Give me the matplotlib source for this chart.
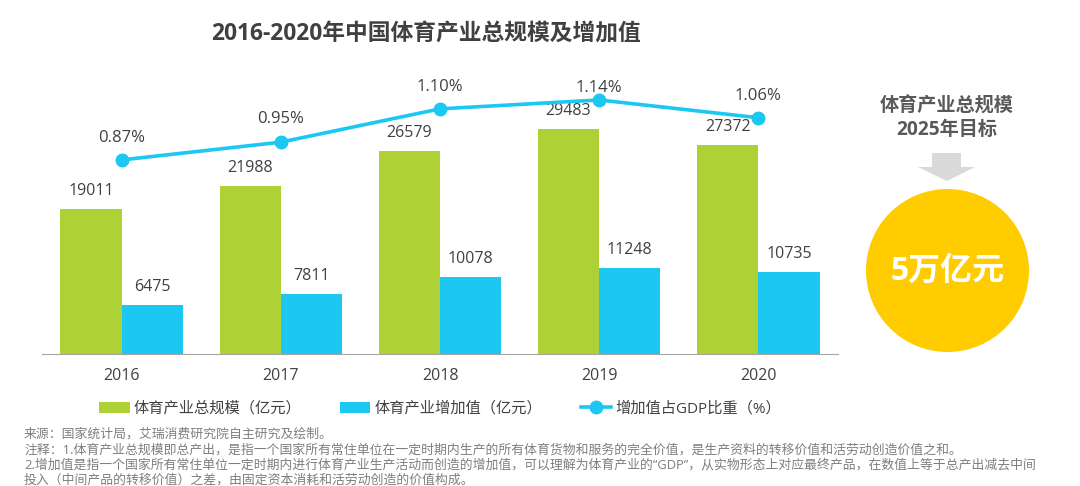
import matplotlib
matplotlib.use('Agg')
import matplotlib.pyplot as plt
from matplotlib.patches import Ellipse, Polygon, Rectangle

plt.rcParams['font.family'] = ['Open Sans', 'Noto Sans CJK SC', 'DejaVu Sans']

years = ['2016', '2017', '2018', '2019', '2020']
total = [19011, 21988, 26579, 29483, 27372]
added = [6475, 7811, 10078, 11248, 10735]
share = [0.87, 0.95, 1.10, 1.14, 1.06]
share_labels = ['0.87%', '0.95%', '1.10%', '1.14%', '1.06%']

title = '2016-2020年中国体育产业总规模及增加值'
legend_labels = ['体育产业总规模\uff08亿元\uff09', '体育产业增加值\uff08亿元\uff09', '增加值占GDP比重\uff08%\uff09']
notes = [
    '来源\uff1a国家统计局\uff0c艾瑞消费研究院自主研究及绘制。',
    '注释\uff1a1.体育产业总规模即总产出\uff0c是指一个国家所有常住单位在一定时期内生产的所有体育货物和服务的完全价值\uff0c是生产资料的转移价值和活劳动创造价值之和。',
    '2.增加值是指一个国家所有常住单位一定时期内进行体育产业生产活动而创造的增加值\uff0c可以理解为体育产业的“GDP”\uff0c从实物形态上对应最终产品\uff0c在数值上等于总产出减去中间',
    '投入\uff08中间产品的转移价值\uff09之差\uff0c由固定资本消耗和活劳动创造的价值构成。',
]

GREEN = '#AED136'
BLUE = '#1CC7F2'
TEXT = '#404040'

fig = plt.figure(figsize=(10.8, 4.86), dpi=100)

# bar area, pixel box x 42-838, y 50-354
ax = fig.add_axes([42 / 1080, 1 - 354 / 486, 796 / 1080, 304 / 486])
x = list(range(5))
w = 0.385
ax.bar([i - w / 2 for i in x], total, w, color=GREEN, label=legend_labels[0])
ax.bar([i + w / 2 for i in x], added, w, color=BLUE, label=legend_labels[1])
ax.set_xlim(-0.5, 4.5)
ax.set_ylim(0, 39835)
for s in ['top', 'left', 'right']:
    ax.spines[s].set_visible(False)
ax.spines['bottom'].set_color('#A6A6A6')
ax.set_yticks([])
ax.set_xticks(x)
ax.set_xticklabels(years, fontsize=11.5, color=TEXT)
ax.tick_params(axis='x', length=0, pad=10)

for i in x:
    ax.text(i - w / 2, total[i] + 1300, str(total[i]), ha='center', va='bottom', fontsize=11.5, color=TEXT)
    ax.text(i + w / 2, added[i] + 1300, str(added[i]), ha='center', va='bottom', fontsize=11.5, color=TEXT)

# line is on its own hidden scale
ax2 = ax.twinx()
ax2.axis('off')
ax2.set_ylim(-0.004, 1.365)
ax2.plot(x, share, color=BLUE, lw=2.6, marker='o', ms=9, label=legend_labels[2])
# the 2019 label sits closer to its point
label_gap = [10, 11, 10, 3, 10]
for i in x:
    ax2.annotate(share_labels[i], (x[i], share[i]), xytext=(0, label_gap[i]), textcoords='offset points',
                 ha='center', va='bottom', fontsize=12, color=TEXT)

fig.text(426 / 1080, 1 - 35 / 486, title, ha='center', va='center', fontsize=16.4, fontweight='bold', color=TEXT)

h1, l1 = ax.get_legend_handles_labels()
h2, l2 = ax2.get_legend_handles_labels()
fig.legend(h1 + h2, l1 + l2, loc='center', bbox_to_anchor=(440 / 1080, 1 - 409 / 486), ncol=3, frameon=False,
           fontsize=11, labelcolor=TEXT, columnspacing=2.54, handlelength=2.0, handletextpad=0.25)

# right side panel in pixel coords
bg = fig.add_axes([0, 0, 1, 1], zorder=-1)
bg.set_xlim(0, 1080)
bg.set_ylim(486, 0)
bg.axis('off')
bg.text(947, 118, '体育产业总规模\n2025年目标', ha='center', va='center', fontsize=13.8, fontweight='bold',
        color='#595959', linespacing=1.2)
bg.add_patch(Rectangle((932, 153), 29, 14, color='#D9D9D9', lw=0))
bg.add_patch(Polygon([(918, 167), (975, 167), (947, 181)], color='#D9D9D9', lw=0))
bg.add_patch(Ellipse((947.5, 270.5), 163, 163, color='#FFCC00', lw=0))
bg.text(947.5, 271, '5万亿元', ha='center', va='center', fontsize=23, fontweight='bold', color='white')

for yy, line in zip([434, 450, 465, 480], notes):
    fig.text(24 / 1080, 1 - yy / 486, line, ha='left', va='center', fontsize=9.25, color='#7F7F7F')

fig.savefig('out.png', dpi=100)
